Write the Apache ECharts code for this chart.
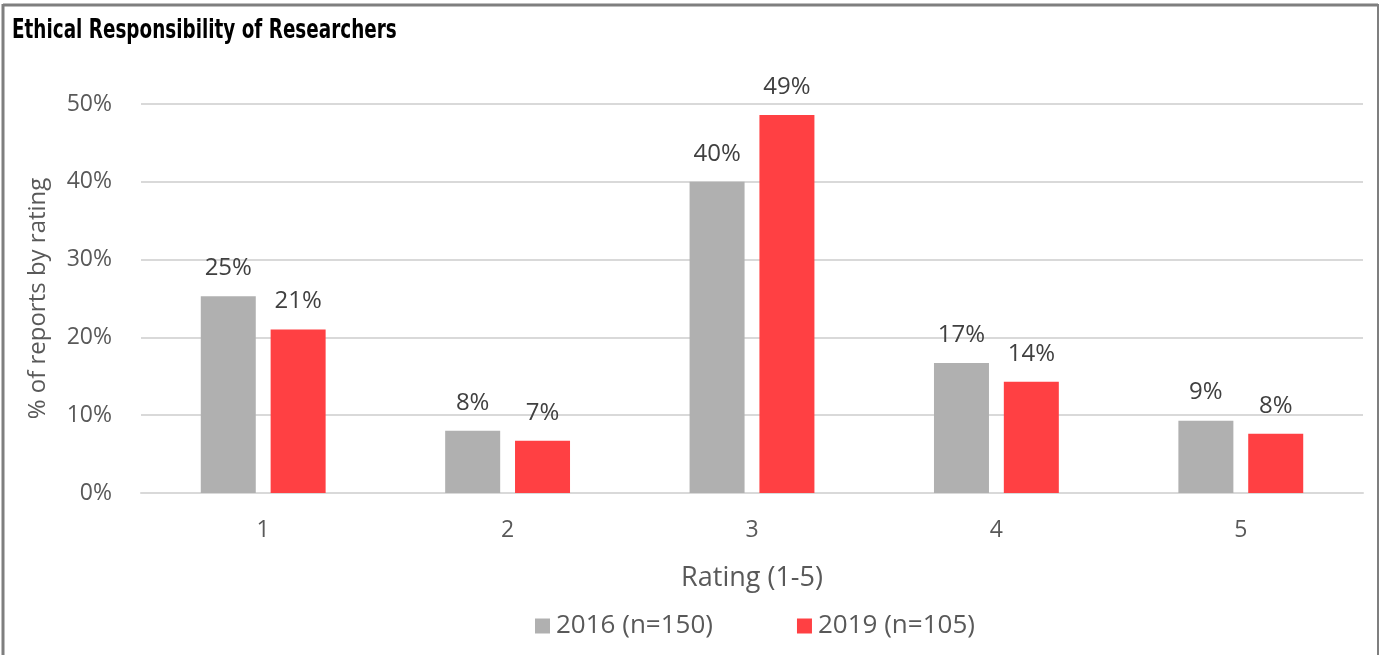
<!DOCTYPE html>
<html>
<head>
<meta charset="utf-8">
<script src="https://cdn.jsdelivr.net/npm/echarts@6/dist/echarts.min.js"></script>
<style>
html,body{margin:0;padding:0;background:#fff;}
#chart{width:1379px;height:655px;}
</style>
</head>
<body>
<div id="chart"></div>
<script>
const categories = ['1', '2', '3', '4', '5'];
const series2016 = [25.3, 8.0, 40.0, 16.7, 9.3];
const series2019 = [21.0, 6.7, 48.6, 14.3, 7.6];
const seriesNames = ['2016 (n=150)', '2019 (n=105)'];
const yTicks = [0, 10, 20, 30, 40, 50];
const titleText = 'Ethical Responsibility of Researchers';

const font = '"Open Sans", "Noto Sans", sans-serif';
const chart = echarts.init(document.getElementById('chart'), null, {renderer: 'canvas'});
chart.setOption({
  animation: false,
  backgroundColor: '#ffffff',
  graphic: [
    {type: 'line', shape: {x1: 3, y1: 5, x2: 1378, y2: 5}, style: {stroke: '#7f7f7f', lineWidth: 3}},
    {type: 'line', shape: {x1: 3, y1: 4, x2: 3, y2: 655}, style: {stroke: '#7f7f7f', lineWidth: 3}},
    {type: 'line', shape: {x1: 1378, y1: 4, x2: 1378, y2: 655}, style: {stroke: '#7f7f7f', lineWidth: 2}},
    {type: 'text', x: 12, y: 31, scaleX: 0.757, originX: 0, originY: 0,
      style: {text: titleText, fontFamily: '"DejaVu Sans Condensed", "DejaVu Sans", sans-serif',
        fontWeight: 'bold', fontSize: 27, fill: '#000', verticalAlign: 'middle', align: 'left'}}
  ],
  legend: {
    data: seriesNames,
    bottom: 11, left: 530,
    itemWidth: 15, itemHeight: 15, itemGap: 84,
    icon: 'rect',
    textStyle: {fontFamily: font, fontSize: 26, color: '#595959', padding: [0, 0, 0, 1]}
  },
  grid: {left: 141, right: 16, top: 104, bottom: 162, containLabel: false},
  xAxis: {
    type: 'category', data: categories,
    name: 'Rating (1-5)', nameLocation: 'middle', nameGap: 72,
    nameTextStyle: {fontFamily: font, fontSize: 27, color: '#595959'},
    axisLine: {show: true, lineStyle: {color: '#d9d9d9', width: 2}},
    axisTick: {show: false},
    axisLabel: {fontFamily: font, fontSize: 23, color: '#595959', margin: 26}
  },
  yAxis: {
    type: 'value', min: 0, max: 50, interval: 10,
    name: '% of reports by rating', nameLocation: 'middle', nameGap: 91,
    nameTextStyle: {fontFamily: font, fontSize: 24, color: '#595959'},
    axisLine: {show: false}, axisTick: {show: false},
    axisLabel: {fontFamily: font, fontSize: 23, color: '#595959', margin: 29,
      formatter: v => yTicks.includes(v) ? v + '%' : ''},
    splitLine: {lineStyle: {color: '#d9d9d9', width: 2}}
  },
  series: [
    {name: seriesNames[0], type: 'bar', data: series2016, barWidth: 55, barGap: '27%',
      itemStyle: {color: '#b0b0b0'},
      label: {show: true, position: 'top', distance: 16, formatter: p => Math.round(p.value) + '%',
        fontFamily: font, fontSize: 24, color: '#404040'}},
    {name: seriesNames[1], type: 'bar', data: series2019, barWidth: 55,
      itemStyle: {color: '#ff4043'},
      label: {show: true, position: 'top', distance: 16, formatter: p => Math.round(p.value) + '%',
        fontFamily: font, fontSize: 24, color: '#404040'}}
  ]
});
</script>
</body>
</html>
